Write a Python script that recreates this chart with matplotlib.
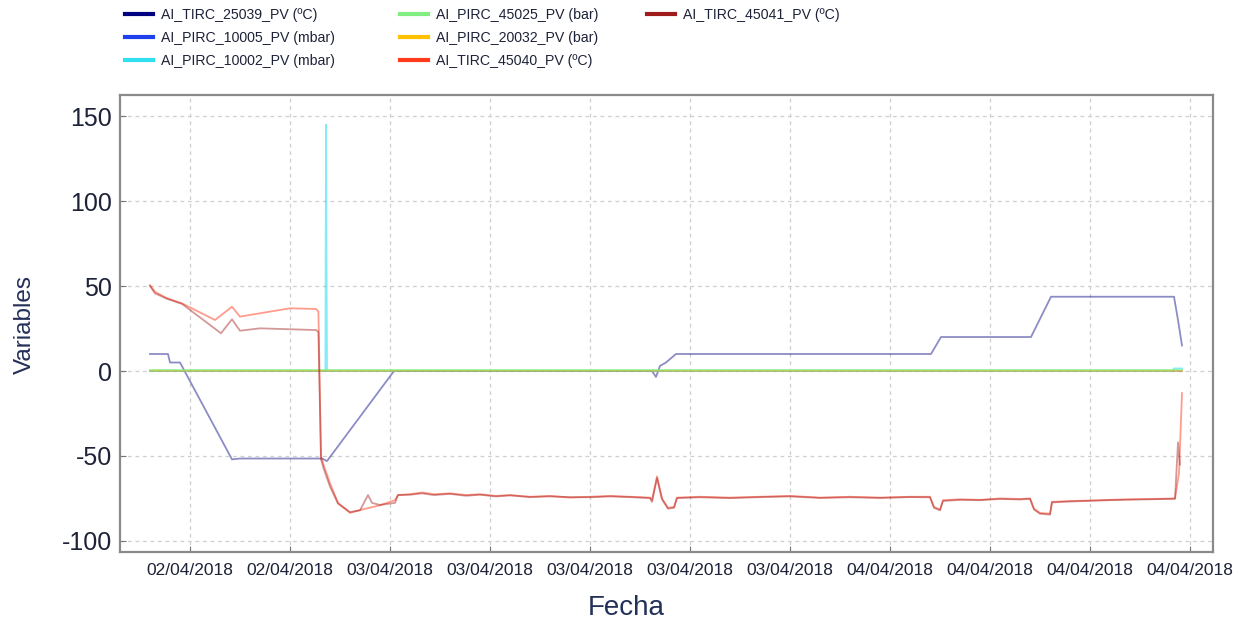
import matplotlib
matplotlib.use("Agg")
import matplotlib.pyplot as plt
import matplotlib.dates as mdates
from matplotlib.lines import Line2D
from matplotlib import font_manager
import pandas as pd
import numpy as np

# ---------------- data (hours after 02/04/2018 12:00) ----------------
base = pd.Timestamp("2018-04-02 12:00")

labels = ["AI_TIRC_25039_PV (ºC)", "AI_PIRC_10005_PV (mbar)", "AI_PIRC_10002_PV (mbar)",
          "AI_PIRC_45025_PV (bar)", "AI_PIRC_20032_PV (bar)", "AI_TIRC_45040_PV (ºC)",
          "AI_TIRC_45041_PV (ºC)"]
colors = ["#000080", "#2040ee", "#30e0f0", "#80ee80", "#ffc000", "#ff3a1a", "#a01c1c"]

t_25039 = [0, 0.9, 1.0, 1.5, 4.1, 4.5, 8.6, 8.85, 12.2, 25.1, 25.3, 25.5, 25.8, 26.3,
           39.05, 39.55, 44.05, 45.05, 51.2, 51.4, 51.6]
v_25039 = [10, 10, 5, 5, -52, -51.5, -51.5, -53, 0, 0, -3.5, 3, 5, 10,
           10, 20, 20, 43.7, 43.7, 30, 15]

t_10005 = [0, 51.6]
v_10005 = [0, 0]

t_10002 = [0, 8.77, 8.80, 8.85, 51.1, 51.2, 51.6]
v_10002 = [0, 0, 145, 0, 0, 1.5, 1.5]

t_45025 = [0, 51.6]
v_45025 = [0.3, 0.3]

t_20032 = [0, 51.6]
v_20032 = [0, 0]

t_45040 = [0, 0.25, 0.85, 1.6, 3.25, 4.1, 4.5, 7.0, 8.3, 8.42, 8.55, 8.7, 9.0, 9.4, 10.0,
           10.5, 11.5, 12.25, 12.4, 13, 13.6, 14.2, 15, 15.8, 16.5, 17.3, 18, 19, 20, 21,
           22, 23, 24, 25.0, 25.1, 25.35, 25.6, 25.9, 26.2, 26.35, 27.5, 29, 30.5, 32, 33.5,
           35, 36.5, 38, 39.0, 39.2, 39.5, 39.65, 40.5, 41.5, 42.5, 43.5, 44.0, 44.2, 44.5,
           45.0, 45.1, 46, 47, 48, 49, 50, 51.25, 51.45, 51.6]
v_45040 = [50.5, 46.6, 42.8, 39.8, 30, 37.8, 32, 36.9, 36.5, 35, -50, -56, -66, -77.6, -83.5,
           -81.8, -79, -76, -73, -72.5, -71.5, -72.5, -72, -73, -72.5, -73.5, -73, -74, -73.5, -74.5,
           -74, -73.5, -74, -74.5, -76, -62, -75, -80.5, -80, -74.5, -74, -74.5, -74, -73.5, -74.5,
           -74, -74.5, -74, -74, -80, -81.5, -76, -75.5, -75.8, -75, -75.3, -75, -81, -83.5,
           -84, -77, -76.5, -76.2, -75.8, -75.5, -75.3, -75, -60, -13]

t_45041 = [0, 0.25, 0.85, 1.6, 3.55, 4.1, 4.5, 5.5, 8.3, 8.42, 8.55, 8.7, 9.0, 9.4, 10.0,
           10.5, 10.9, 11.1, 11.5, 12.25, 12.4, 13, 13.6, 14.2, 15, 15.8, 16.5, 17.3, 18, 19, 20,
           21, 22, 23, 24, 25.0, 25.1, 25.35, 25.6, 25.9, 26.2, 26.35, 27.5, 29, 30.5, 32, 33.5,
           35, 36.5, 38, 39.0, 39.2, 39.5, 39.65, 40.5, 41.5, 42.5, 43.5, 44.0, 44.2, 44.5,
           45.0, 45.1, 46, 47, 48, 49, 50, 51.25, 51.4, 51.5]
v_45041 = [50, 45.7, 42.5, 39.5, 22.2, 30.4, 23.7, 25.1, 24.1, 23, -52, -58, -68, -78, -83,
           -82, -73, -77.6, -78.8, -77.6, -73, -72.8, -72, -73, -72.3, -73.4, -72.8, -73.8, -73.2, -74.2, -73.8,
           -74.2, -74.3, -73.8, -74.2, -74.8, -77, -63, -75.5, -81, -80.5, -74.8, -74.3, -74.8, -74.2, -73.8, -74.7,
           -74.3, -74.7, -74.2, -74.3, -80.5, -82, -76.5, -75.8, -76, -75.3, -75.6, -75.2, -81.5, -84,
           -84.5, -77.3, -76.8, -76.4, -76, -75.7, -75.5, -75.2, -42, -55]

series_t = [t_25039, t_10005, t_10002, t_45025, t_20032, t_45040, t_45041]
series_v = [v_25039, v_10005, v_10002, v_45025, v_20032, v_45040, v_45041]
series_alpha = [0.45, 0.5, 0.6, 0.75, 0.5, 0.5, 0.45]

tick_times = pd.date_range("2018-04-02 14:00", periods=11, freq="5h")
y_ticks = [150, 100, 50, 0, -50, -100]

# ---------------- fonts ----------------
names = {f.name for f in font_manager.fontManager.ttflist}
narrow = "Liberation Sans Narrow" in names
plt.rcParams["font.family"] = ["Liberation Sans", "DejaVu Sans"]
plt.rcParams["axes.unicode_minus"] = False
leg_family = ["Liberation Sans Narrow", "Liberation Sans"] if narrow else ["Liberation Sans", "DejaVu Sans"]
leg_size = 13 if narrow else 10.2

# ---------------- figure ----------------
fig = plt.figure(figsize=(12.47, 6.22), dpi=100)
ax = fig.add_axes([120 / 1247, 1 - 552 / 622, (1213 - 120) / 1247, (552 - 95) / 622])

draw_order = [1, 4, 3, 2, 0, 6, 5]
for i in draw_order:
    tt = base + pd.to_timedelta(np.array(series_t[i]), unit="h")
    ax.plot(tt, series_v[i], color=colors[i], alpha=series_alpha[i], lw=1.3, zorder=3 + i * 0.1)

x0 = base + pd.Timedelta(hours=-1.5)
x1 = base + pd.Timedelta(hours=53.15)
ax.set_xlim(x0, x1)
ax.set_ylim(-106.5, 162.4)
ax.set_xticks(tick_times)
ax.xaxis.set_major_formatter(mdates.DateFormatter("%d/%m/%Y"))
ax.set_yticks(y_ticks)

ax.grid(True, color="#cfcfcf", linestyle=(0, (3, 3)), lw=0.9)
ax.tick_params(axis="both", direction="in", length=4, color="#777777")
ax.tick_params(axis="y", labelsize=18, pad=6, labelcolor="#1e2238")
ax.tick_params(axis="x", labelsize=12.5, pad=8, labelcolor="#1e2238")
for s in ax.spines.values():
    s.set_color("#8a8a8a")
    s.set_linewidth(1.6)

fig.text(25 / 1247, 1 - 325 / 622, "Variables", rotation=90, ha="center", va="center",
         fontsize=17.5, color="#233058")
fig.text(626 / 1247, 1 - 608 / 622, "Fecha", ha="center", va="center", fontsize=20,
         color="#233058")

# ---------------- legend (3 columns) ----------------
col_x = [125, 400, 647]
for c in range(3):
    idx = [k for k in range(c * 3, min(c * 3 + 3, 7))]
    handles = [Line2D([], [], color=colors[k], lw=3) for k in idx]
    fig.legend(handles, [labels[k] for k in idx], loc="upper left",
               bbox_to_anchor=(col_x[c] / 1247, 1 - 8 / 622), frameon=False,
               prop={"family": leg_family, "size": leg_size},
               handlelength=28 / (leg_size * 100 / 72), handletextpad=0.55,
               labelspacing=0.25 if narrow else 0.62, borderpad=0, borderaxespad=0,
               labelcolor="#1e2238")

fig.savefig("out.png", dpi=100)
